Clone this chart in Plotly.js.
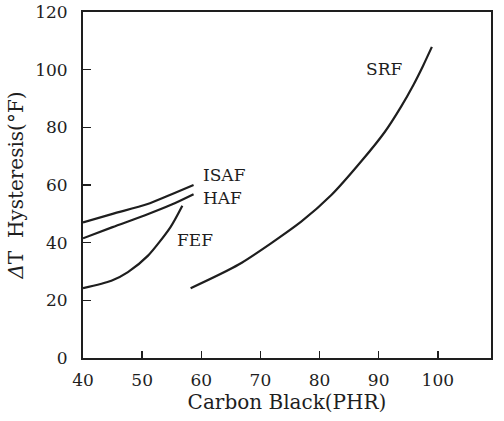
<!DOCTYPE html>
<html>
<head>
<meta charset="utf-8">
<script src="https://cdn.plot.ly/plotly-3.0.1.min.js"></script>
<style>html,body{margin:0;padding:0;background:#fff;}#chart{width:504px;height:421px;}</style>
</head>
<body>
<div id="chart"></div>
<script>
// Carbon black loading (PHR) vs ΔT hysteresis (°F)
const isafX = [40, 45, 50.8, 55, 58.7];
const isafY = [47, 50, 53.3, 56.8, 60];
const hafX = [40, 45, 50.5, 55, 58.7];
const hafY = [41.5, 45.4, 49.5, 53.2, 56.8];
const fefX = [40, 44.8, 47.6, 51, 54.8, 56.8];
const fefY = [24.2, 26.8, 29.8, 35.5, 45.4, 52.8];
const srfX = [58.2, 66.4, 76.9, 82.0, 87.1, 91.0, 93.8, 95.9, 97.5, 99.0];
const srfY = [24.2, 32.5, 47.3, 56.5, 68.3, 78.3, 87.2, 94.8, 101.3, 107.9];
const seriesNames = ['ISAF', 'HAF', 'FEF', 'SRF'];
const labelX = [60, 60, 55.5, 87.6];
const labelY = [63.3, 55.6, 41, 100.3];
const xTicks = [40, 50, 60, 70, 80, 90, 100];
const yTicks = [0, 20, 40, 60, 80, 100, 120];

const font = 'DejaVu Serif, Liberation Serif, serif';
const ink = '#1e1e1e';
const lineStyle = {color: ink, width: 2.2, shape: 'spline', smoothing: 0.7};
const series = [[isafX, isafY], [hafX, hafY], [fefX, fefY], [srfX, srfY]];
const traces = series.map((s, i) => ({
  x: s[0], y: s[1], name: seriesNames[i], mode: 'lines', line: lineStyle
}));

const annotations = seriesNames.map((n, i) => ({
  text: n, xref: 'x', yref: 'y', x: labelX[i], y: labelY[i],
  xanchor: 'left', yanchor: 'middle', showarrow: false,
  font: {family: font, size: 17, color: ink}
}));

const layout = {
  width: 504, height: 421,
  margin: {l: 83, r: 13, t: 12, b: 63},
  paper_bgcolor: '#fff', plot_bgcolor: '#fff',
  showlegend: false,
  font: {family: font, color: ink},
  xaxis: {
    range: [40, 109], tickvals: xTicks, ticktext: xTicks.map(String),
    ticks: 'inside', ticklen: 7, tickwidth: 1.5, tickcolor: ink,
    showline: true, linecolor: ink, linewidth: 2, mirror: true,
    showgrid: false, zeroline: false,
    ticklabelstandoff: 6,
    tickfont: {family: font, size: 17, color: ink},
    title: {text: 'Carbon Black(PHR)', font: {family: font, size: 20, color: ink}, standoff: 0}
  },
  yaxis: {
    range: [0, 120], tickvals: yTicks, ticktext: yTicks.map(String),
    ticks: 'inside', ticklen: 8, tickwidth: 1.5, tickcolor: ink,
    showline: true, linecolor: ink, linewidth: 2, mirror: true,
    showgrid: false, zeroline: false,
    ticklabelstandoff: 10,
    tickfont: {family: font, size: 17, color: ink},
    title: {text: '<i>Δ</i>T  Hysteresis(°F)', font: {family: font, size: 20, color: ink}, standoff: 6}
  },
  annotations: annotations
};

Plotly.newPlot('chart', traces, layout, {displayModeBar: false, staticPlot: true});
</script>
</body>
</html>
